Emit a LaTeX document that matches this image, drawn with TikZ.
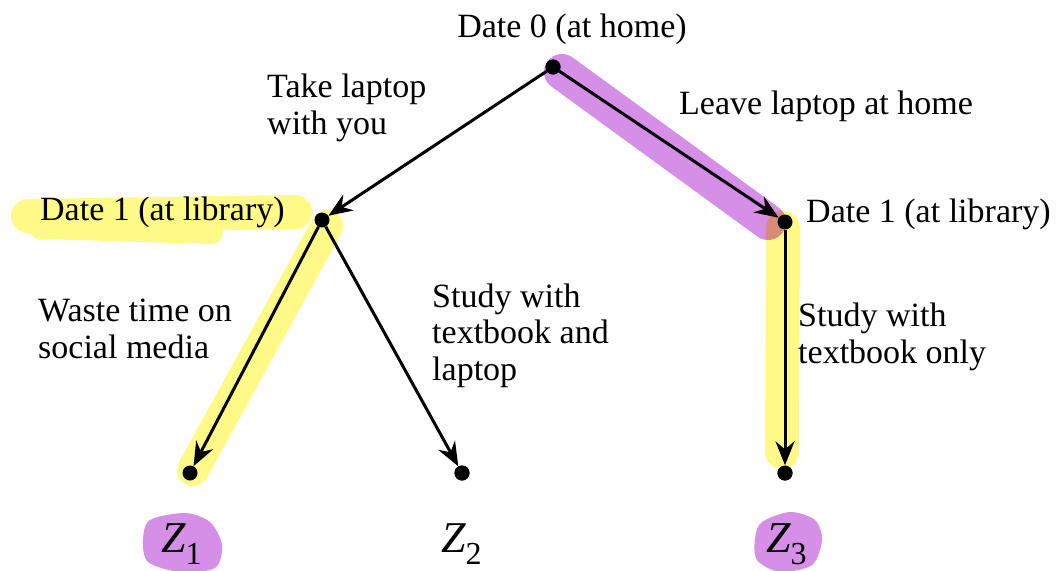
\documentclass[tikz,border=0pt]{standalone}
\usepackage{fontspec}
\setmainfont{Liberation Serif}
\usetikzlibrary{arrows.meta}
\definecolor{hlyellow}{RGB}{255,250,135}
\definecolor{hlpurple}{RGB}{214,143,230}
\begin{document}
\begin{tikzpicture}[x=1pt,y=-1pt,
  dot/.style={circle,fill=black,inner sep=0pt,minimum size=15pt},
  edge/.style={line width=3pt,-{Stealth[length=24pt,width=19pt,inset=8pt]}},
  lbl/.style={font=\fontsize{34}{36.5}\selectfont,inner sep=0pt,align=left,anchor=base west},
  zlbl/.style={font=\fontsize{44}{44}\selectfont,inner sep=0pt,anchor=base west},
  sub/.style={},
  hlY/.style={draw=hlyellow,line width=30pt,line cap=round,line join=round},
  hlP/.style={draw=hlpurple,line width=30pt,line cap=round,line join=round}]
\useasboundingbox (0,0) rectangle (1059,570);

% decision points and outcomes
\node[dot] (root) at (553,67) {};
\node[dot] (L1) at (322,220) {};
\node[dot] (R1) at (785,222) {};
\node[dot] (z1) at (190,473) {};
\node[dot] (z2) at (462,473) {};
\node[dot] (z3) at (785,473) {};

% highlighter strokes: yellow
\draw[hlY,line width=34pt] (28,216) -- (295,212);
\draw[hlY,line width=22pt] (40,228) -- (212,233);
\draw[hlY,line width=32pt] (327,226) -- (193,470);
\draw[hlY,line width=34pt] (783,228) -- (782,452);

% highlighter strokes: purple
\begin{scope}[blend mode=multiply]
  \draw[hlP,line width=36pt] (562,72) -- (768,222);
  \fill[hlpurple] plot[smooth cycle] coordinates
    {(150,520) (185,513) (210,522) (222,545) (215,568) (180,572) (148,562) (143,540)};
  \fill[hlpurple] plot[smooth cycle] coordinates
    {(762,522) (790,512) (815,520) (822,540) (812,565) (780,572) (757,560) (755,538)};
\end{scope}

% redraw the dots above the highlights
\node[dot] at (root) {};
\node[dot] at (L1) {};
\node[dot] at (R1) {};
\node[dot] at (z1) {};
\node[dot] at (z2) {};
\node[dot] at (z3) {};

% branches
\draw[edge] (root) -- (L1);
\draw[edge] (root) -- (R1);
\draw[edge] (L1) -- (z1);
\draw[edge] (L1) -- (z2);
\draw[edge] (R1) -- (z3);

% labels (multi-line nodes sit on the baseline of their last line)
\node[lbl,anchor=base] (t0) at (572,37) {Date 0 (at home)};
\node[lbl] (ta) at (267,134) {Take laptop\\with you};
\node[lbl] (tb) at (679,114) {Leave laptop at home};
\node[lbl] (tL) at (40,220) {Date 1 (at library)};
\node[lbl] (tR) at (806,222) {Date 1 (at library)};
\node[lbl] (tc) at (38,358) {Waste time on\\social media};
\node[lbl] (td) at (432,380) {Study with\\textbook and\\laptop};
\node[lbl] (te) at (798,363) {Study with\\textbook only};

% outcome names
\newcommand\zsub[1]{\raisebox{-12pt}{\upshape\fontsize{32}{32}\selectfont #1}}
\node[zlbl] (Z1) at (161,552) {\itshape Z\zsub{1}};
\node[zlbl] (Z2) at (441,552) {\itshape Z\zsub{2}};
\node[zlbl] (Z3) at (766,552) {\itshape Z\zsub{3}};
\end{tikzpicture}
\end{document}
